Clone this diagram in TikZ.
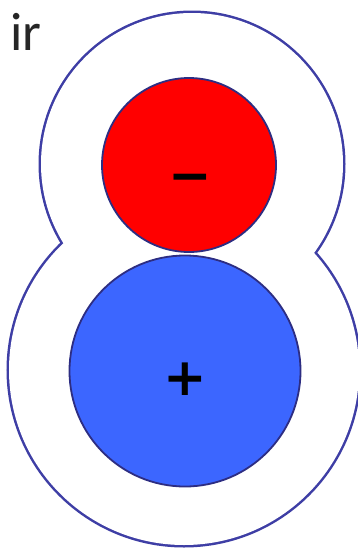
\documentclass[tikz,border=0pt]{standalone}
\usepackage{fontspec}
\setmainfont{Carlito}
\newfontfamily\signfont{DejaVu Sans}
\usepackage{tikz}
\usetikzlibrary{positioning}
\definecolor{rim}{RGB}{62,62,165}
\definecolor{navy}{RGB}{45,45,130}
\definecolor{ionred}{RGB}{255,0,0}
\definecolor{ionblue}{RGB}{60,102,255}

\begin{document}
\begin{tikzpicture}[x=1pt,y=-1pt,
        ion/.style = {draw=navy, line width=1.8pt, circle, inner sep=0pt},
        sign/.style = {font=\signfont\bfseries\fontsize{52}{52}\selectfont, inner sep=0pt}]
        \useasboundingbox (0,0) rectangle (358,549);
        % outer shell: two circles, only the outer rim kept
        \draw[rim, line width=5pt] (192,164) circle (151) (184,370) circle (175);
        \fill[white] (192,164) circle (151) (184,370) circle (175);
        \node[ion, fill=ionred, minimum size=174pt] (neg) at (189,165) {};
        \node[ion, fill=ionblue, minimum size=231pt] (pos) at (185,371) {};
        \node[sign] (minus) at (190,184) {−};
        \node[sign] (plus) at (185,379) {+};
        \node[font=\fontsize{54}{54}\selectfont, anchor=base west, inner sep=0pt, text=black!85] (lbl) at (10,50) {ir};
    \end{tikzpicture}
\end{document}
